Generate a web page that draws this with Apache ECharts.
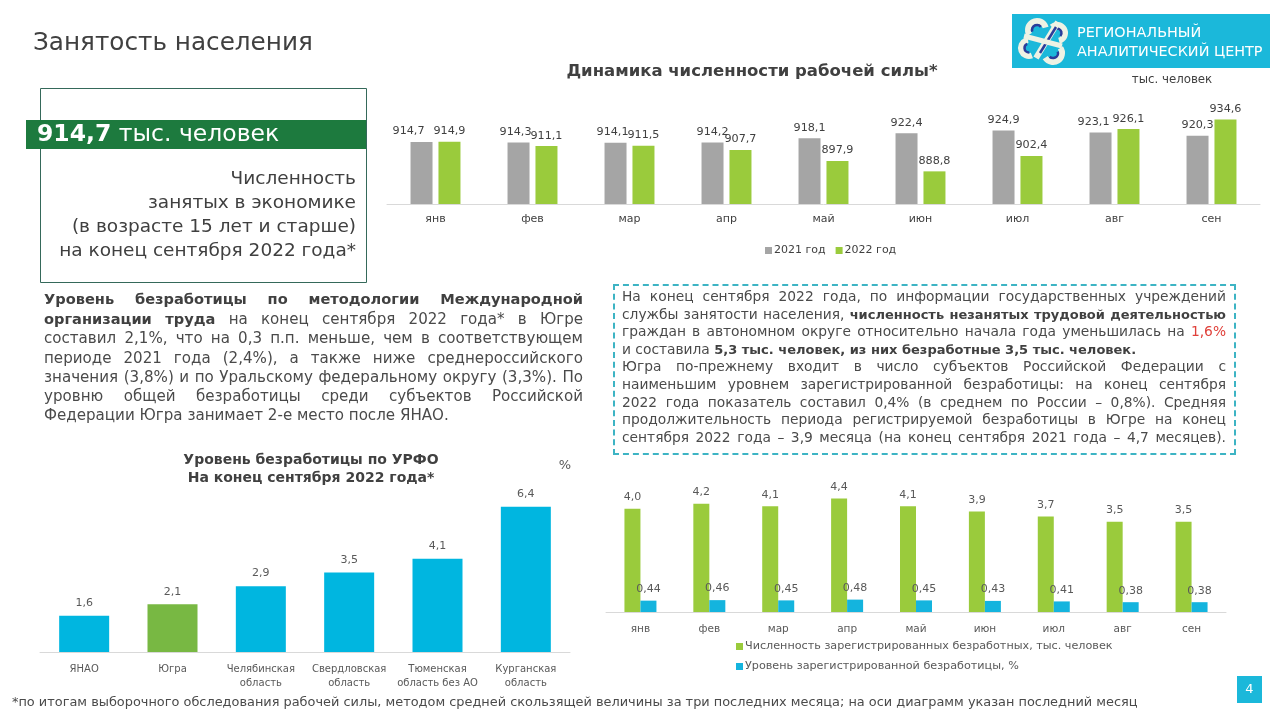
<!DOCTYPE html>
<html><head><meta charset="utf-8">
<script src="https://cdn.jsdelivr.net/npm/echarts@6.0.0/dist/echarts.min.js"></script>
<style>
html,body{margin:0;padding:0;width:1280px;height:720px;overflow:hidden;background:#fff;font-family:'DejaVu Sans',sans-serif;color:#4a4a4a}
#chart{position:absolute;left:0;top:0;width:1280px;height:720px}
.p{position:absolute;}
.p div{white-space:nowrap;text-align:justify;text-align-last:justify;}
.p div.last{text-align-last:left}
.p b{color:#404040}
.dash{position:absolute;left:613px;top:284px;width:619px;height:167px;border:2px dashed #3DB4C4;}
</style></head>
<body>
<div id="chart"></div>
<div class="p" style="left:44px;top:289px;width:539px;font-size:15.1px;line-height:19.2px;">
<div><b style="font-size:14.6px">Уровень безработицы по методологии Международной</b></div>
<div><b style="font-size:14.6px">организации труда</b> на конец сентября 2022 года* в Югре</div>
<div>составил 2,1%, что на 0,3 п.п. меньше, чем в соответствующем</div>
<div>периоде 2021 года (2,4%), а также ниже среднероссийского</div>
<div>значения (3,8%) и по Уральскому федеральному округу (3,3%). По</div>
<div>уровню общей безработицы среди субъектов Российской</div>
<div class="last">Федерации Югра занимает 2-е место после ЯНАО.</div>
</div>
<div class="dash"></div>
<div class="p" style="left:622px;top:288px;width:604px;font-size:13.8px;line-height:17.6px;">
<div>На конец сентября 2022 года, по информации государственных учреждений</div>
<div>службы занятости населения, <b style="font-size:13px">численность незанятых трудовой деятельностью</b></div>
<div>граждан в автономном округе относительно начала года уменьшилась на <span style="color:#E0403A">1,6%</span></div>
<div class="last">и составила <b style="font-size:13px">5,3 тыс. человек, из них безработные 3,5 тыс. человек.</b></div>
<div>Югра по-прежнему входит в число субъектов Российской Федерации с</div>
<div>наименьшим уровнем зарегистрированной безработицы: на конец сентября</div>
<div>2022 года показатель составил 0,4% (в среднем по России – 0,8%). Средняя</div>
<div>продолжительность периода регистрируемой безработицы в Югре на конец</div>
<div>сентября 2022 года – 3,9 месяца (на конец сентября 2021 года – 4,7 месяцев).</div>
</div>
<div class="p" style="left:12px;top:694px;font-size:12.9px;white-space:nowrap;">*по итогам выборочного обследования рабочей силы, методом средней скользящей величины за три последних месяца; на оси диаграмм указан последний месяц</div>
<script>
const months = ['янв','фев','мар','апр','май','июн','июл','авг','сен'];
const labor2021 = [914.7, 914.3, 914.1, 914.2, 918.1, 922.4, 924.9, 923.1, 920.3];
const labor2022 = [914.9, 911.1, 911.5, 907.7, 897.9, 888.8, 902.4, 926.1, 934.6];
const regions = ['ЯНАО', 'Югра', 'Челябинская\nобласть', 'Свердловская\nобласть', 'Тюменская\nобласть без АО', 'Курганская\nобласть'];
const regionRate = [1.6, 2.1, 2.9, 3.5, 4.1, 6.4];
const regUnemployed = [4.0, 4.2, 4.1, 4.4, 4.1, 3.9, 3.7, 3.5, 3.5];
const regRate = [0.44, 0.46, 0.45, 0.48, 0.45, 0.43, 0.41, 0.38, 0.38];

const TXT = '#404040';
const TXT2 = '#595959';
const FONT = 'DejaVu Sans';
const fmt = (v, d) => Number(v).toFixed(d).replace('.', ',');
// horizontal nudges of some 2021 labels (as moved in the original slide)
const shift2021 = {0: -13, 1: -3, 2: -3, 7: -7};

const chart = echarts.init(document.getElementById('chart'));
const cream = '#EEF2E4', navy = '#2B3C9A';
const option = {
  animation: false,
  textStyle: {fontFamily: FONT},
  grid: [
    {left: 387, width: 873, top: 102, height: 102},
    {left: 40, width: 530, top: 493, height: 159},
    {left: 606, width: 620, top: 483, height: 129}
  ],
  xAxis: [
    {type: 'category', gridIndex: 0, data: months, axisLine: {lineStyle: {color: '#D9D9D9'}}, axisTick: {show: false}, axisLabel: {color: TXT, fontSize: 11, margin: 10}},
    {type: 'category', gridIndex: 1, data: regions, axisLine: {lineStyle: {color: '#D9D9D9'}}, axisTick: {show: false}, axisLabel: {color: TXT2, fontSize: 10, margin: 10, lineHeight: 14, interval: 0}},
    {type: 'category', gridIndex: 2, data: months, axisLine: {lineStyle: {color: '#D9D9D9'}}, axisTick: {show: false}, axisLabel: {color: TXT2, fontSize: 10.5, margin: 12}}
  ],
  yAxis: [
    {type: 'value', gridIndex: 0, min: 860, max: 950, show: false},
    {type: 'value', gridIndex: 1, min: 0, max: 7, show: false},
    {type: 'value', gridIndex: 2, min: 0, max: 5, show: false}
  ],
  legend: [
    {data: ['2021 год', '2022 год'], left: 760, top: 240, icon: 'rect', itemWidth: 7, itemHeight: 7, itemGap: 10, textStyle: {color: TXT, fontSize: 11, padding: [0, 0, 0, -3]}},
    {data: ['Численность зарегистрированных безработных, тыс. человек', 'Уровень зарегистрированной безработицы, %'], orient: 'vertical', left: 731, top: 636, icon: 'rect', itemWidth: 7, itemHeight: 7, itemGap: 9, textStyle: {color: TXT2, fontSize: 11.2, padding: [0, 0, 0, -3]}}
  ],
  series: [
    {name: '2021 год', type: 'bar', xAxisIndex: 0, yAxisIndex: 0, barWidth: 22, barGap: '27%', itemStyle: {color: '#A5A5A5'},
      data: labor2021.map((v, i) => ({value: v, label: {offset: [shift2021[i] || 0, 0]}})),
      label: {show: true, position: 'top', color: TXT, fontSize: 11.2, formatter: p => fmt(p.value, 1)}},
    {name: '2022 год', type: 'bar', xAxisIndex: 0, yAxisIndex: 0, data: labor2022, barWidth: 22, itemStyle: {color: '#9ACB3C'},
      label: {show: true, position: 'top', color: TXT, fontSize: 11.2, formatter: p => fmt(p.value, 1)}},
    {name: 'Уровень безработицы', type: 'bar', xAxisIndex: 1, yAxisIndex: 1, barWidth: 50,
      data: regionRate.map((v, i) => ({value: v, itemStyle: {color: regions[i] === 'Югра' ? '#78B843' : '#00B6E0'}})),
      label: {show: true, position: 'top', color: TXT2, fontSize: 11, distance: 7, formatter: p => fmt(p.value, 1)}},
    {name: 'Численность зарегистрированных безработных, тыс. человек', type: 'bar', xAxisIndex: 2, yAxisIndex: 2, data: regUnemployed, barWidth: 16, barGap: '0%', itemStyle: {color: '#9ACB3C'},
      label: {show: true, position: 'top', color: TXT2, fontSize: 11, distance: 6, formatter: p => fmt(p.value, 1)}},
    {name: 'Уровень зарегистрированной безработицы, %', type: 'bar', xAxisIndex: 2, yAxisIndex: 2, data: regRate, barWidth: 16, itemStyle: {color: '#14B4DE'},
      label: {show: true, position: 'top', color: TXT2, fontSize: 11, distance: 6, formatter: p => fmt(p.value, 2)}}
  ],
  graphic: [
    {type: 'text', x: 33, y: 44, style: {text: 'Занятость населения', fill: TXT, font: '24.7px ' + FONT, verticalAlign: 'middle'}},
    {type: 'text', x: 752, y: 72, style: {text: 'Динамика численности рабочей силы*', fill: TXT, font: 'bold 16.5px ' + FONT, align: 'center', verticalAlign: 'middle'}},
    {type: 'text', x: 1172, y: 80, style: {text: 'тыс. человек', fill: TXT, font: '11.8px ' + FONT, align: 'center', verticalAlign: 'middle'}},
    {type: 'text', x: 311, y: 469, style: {text: 'Уровень безработицы по УРФО\nНа конец сентября 2022 года*', fill: TXT, font: 'bold 14px ' + FONT, lineHeight: 18, align: 'center', verticalAlign: 'middle'}},
    {type: 'text', x: 565, y: 466, style: {text: '%', fill: TXT2, font: '13px ' + FONT, align: 'center', verticalAlign: 'middle'}},
    // logo
    {type: 'rect', shape: {x: 1012, y: 14, width: 258, height: 54}, style: {fill: '#1BB8DA'}},
    {type: 'arc', shape: {cx: 1037, cy: 30, r: 9, startAngle: 2.6, endAngle: 6.0}, style: {stroke: cream, lineWidth: 6, fill: null}},
    {type: 'arc', shape: {cx: 1037, cy: 30, r: 5, startAngle: 2.8, endAngle: 5.6}, style: {stroke: navy, lineWidth: 2.5, fill: null}},
    {type: 'arc', shape: {cx: 1057, cy: 33, r: 8, startAngle: 4.0, endAngle: 7.6}, style: {stroke: cream, lineWidth: 6, fill: null}},
    {type: 'arc', shape: {cx: 1057, cy: 33, r: 4.5, startAngle: 4.4, endAngle: 7.0}, style: {stroke: navy, lineWidth: 2.5, fill: null}},
    {type: 'arc', shape: {cx: 1029, cy: 48, r: 8, startAngle: 1.2, endAngle: 4.6}, style: {stroke: cream, lineWidth: 6, fill: null}},
    {type: 'arc', shape: {cx: 1029, cy: 48, r: 4.5, startAngle: 1.5, endAngle: 4.3}, style: {stroke: navy, lineWidth: 2.5, fill: null}},
    {type: 'arc', shape: {cx: 1053, cy: 53, r: 9, startAngle: -0.6, endAngle: 2.6}, style: {stroke: cream, lineWidth: 6, fill: null}},
    {type: 'arc', shape: {cx: 1053, cy: 53, r: 5, startAngle: -0.3, endAngle: 2.3}, style: {stroke: navy, lineWidth: 2.5, fill: null}},
    {type: 'line', shape: {x1: 1036, y1: 58, x2: 1058, y2: 22}, style: {stroke: cream, lineWidth: 6}},
    {type: 'line', shape: {x1: 1040, y1: 53, x2: 1056, y2: 27}, style: {stroke: navy, lineWidth: 2.5}},
    {type: 'line', shape: {x1: 1024, y1: 36, x2: 1062, y2: 46}, style: {stroke: cream, lineWidth: 5}},
    {type: 'text', x: 1077, y: 33, style: {text: 'РЕГИОНАЛЬНЫЙ', fill: '#fff', font: '14.4px ' + FONT, verticalAlign: 'middle'}},
    {type: 'text', x: 1077, y: 52, style: {text: 'АНАЛИТИЧЕСКИЙ ЦЕНТР', fill: '#fff', font: '14.4px ' + FONT, verticalAlign: 'middle'}},
    // left box
    {type: 'rect', shape: {x: 40.5, y: 88.5, width: 326, height: 194}, style: {fill: null, stroke: '#35695A', lineWidth: 1}},
    {type: 'rect', shape: {x: 26, y: 120, width: 340, height: 29}, style: {fill: '#1D7A3E'}},
    {type: 'text', x: 37, y: 135, style: {text: '{b|914,7} тыс. человек', fill: '#fff', font: '23.5px ' + FONT, verticalAlign: 'middle',
      rich: {b: {fontWeight: 'bold', fontSize: 23.5, fill: '#fff', fontFamily: FONT}}}},
    {type: 'text', x: 356, y: 179, style: {text: 'Численность', fill: TXT, font: '18.5px ' + FONT, align: 'right', verticalAlign: 'middle'}},
    {type: 'text', x: 356, y: 203, style: {text: 'занятых в экономике', fill: TXT, font: '18.5px ' + FONT, align: 'right', verticalAlign: 'middle'}},
    {type: 'text', x: 356, y: 227, style: {text: '(в возрасте 15 лет и старше)', fill: TXT, font: '18.5px ' + FONT, align: 'right', verticalAlign: 'middle'}},
    {type: 'text', x: 356, y: 251, style: {text: 'на конец сентября 2022 года*', fill: TXT, font: '18.5px ' + FONT, align: 'right', verticalAlign: 'middle'}},
    // page number
    {type: 'rect', shape: {x: 1237, y: 676, width: 25, height: 27}, style: {fill: '#1BB8DA'}},
    {type: 'text', x: 1249.5, y: 689.5, style: {text: '4', fill: '#fff', font: '13px ' + FONT, align: 'center', verticalAlign: 'middle'}}
  ]
};
chart.setOption(option);
</script>
</body></html>
